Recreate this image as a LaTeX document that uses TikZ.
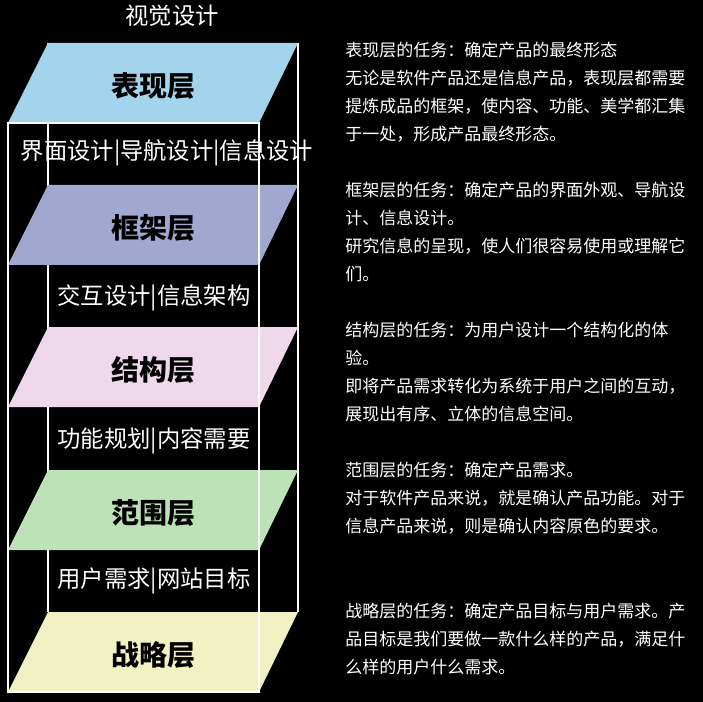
\documentclass[tikz,border=0pt]{standalone}
\usepackage{fontspec}
\setmainfont{Noto Sans CJK SC}
\definecolor{surfaceblue}{HTML}{A3D4EB}
\definecolor{skeletonlilac}{HTML}{A0A8D0}
\definecolor{structurepink}{HTML}{EED8EA}
\definecolor{scopegreen}{HTML}{BEE2B8}
\definecolor{strategyyellow}{HTML}{F1F1C3}
\newcommand\layerplate[4]{\fill[#2] (48,#1) -- (298,#1) -- (259,#1+80) -- (8,#1+80) -- cycle;
	\node[platelabel] (#3) at (153.5,#1+43) {#4};}

\begin{document}
\begin{tikzpicture}[x=0.75pt,y=-0.75pt,
	platelabel/.style={font=\fontsize{21}{25}\selectfont\bfseries, text=black},
	gaplabel/.style={font=\fontsize{17.5}{21}\selectfont, text=white},
	tasktext/.style={font=\fontsize{12.75}{21}\selectfont, text=white, anchor=north west, align=left, inner sep=0pt}]
			%%%%% START %%%%%
			
			\fill[black] (0,0) rectangle (703,702);
			\useasboundingbox (0,0) rectangle (703,702);
			
			\draw[line width=1pt, white] (48,43) -- (48,612);
			\draw[line width=1pt, white] (298,43) -- (298,612);
			
			\layerplate{43}{surfaceblue}{surface}{表现层}
			\layerplate{185}{skeletonlilac}{skeleton}{框架层}
			\layerplate{327}{structurepink}{structure}{结构层}
			\layerplate{470}{scopegreen}{scope}{范围层}
			\layerplate{612}{strategyyellow}{strategy}{战略层}
			
			\draw[line width=1pt, white] (8,123) rectangle (259,692);
			
			\node[gaplabel] (visual) at (172,16) {视觉设计};
			\node[gaplabel] (surfacegap) at (167,153) {界面设计|导航设计|信息设计};
			\node[gaplabel] (skeletongap) at (154,298) {交互设计|信息架构};
			\node[gaplabel] (structuregap) at (154,441) {功能规划|内容需要};
			\node[gaplabel] (scopegap) at (154,581) {用户需求|网站目标};
			
			\node[tasktext] (surfacetask) at (345,41.5) {表现层的任务：确定产品的最终形态\\无论是软件产品还是信息产品，表现层都需要\\提炼成品的框架，使内容、功能、美学都汇集\\于一处，形成产品最终形态。};
			\node[tasktext] (skeletontask) at (345,181.5) {框架层的任务：确定产品的界面外观、导航设\\计、信息设计。\\研究信息的呈现，使人们很容易使用或理解它\\们。};
			\node[tasktext] (structuretask) at (345,321.5) {结构层的任务：为用户设计一个结构化的体\\验。\\即将产品需求转化为系统于用户之间的互动，\\展现出有序、立体的信息空间。};
			\node[tasktext] (scopetask) at (345,461.5) {范围层的任务：确定产品需求。\\对于软件产品来说，就是确认产品功能。对于\\信息产品来说，则是确认内容原色的要求。};
			\node[tasktext] (strategytask) at (345,602.5) {战略层的任务：确定产品目标与用户需求。产\\品目标是我们要做一款什么样的产品，满足什\\么样的用户什么需求。};
			
			%%%%% END %%%%%
		\end{tikzpicture}
\end{document}
